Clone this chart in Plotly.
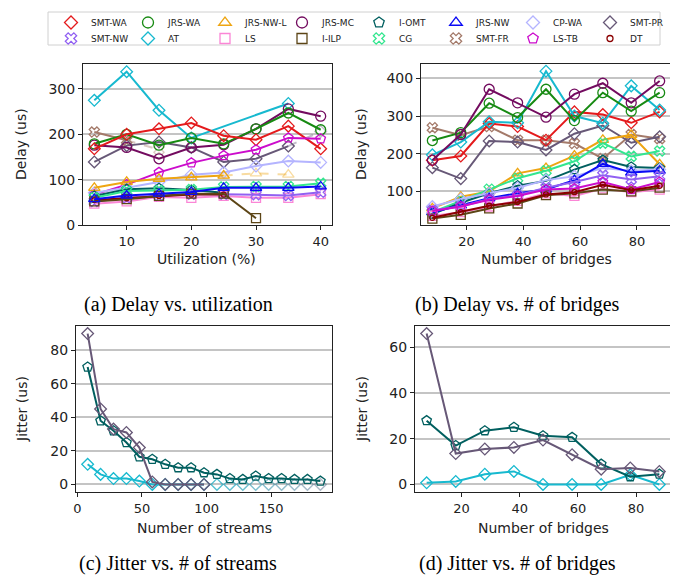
import plotly.graph_objects as go

# ------------------------------------------------------------------ data
UTIL = [5, 10, 15, 20, 25, 30, 35, 40]
BRIDGES = [8, 18, 28, 38, 48, 58, 68, 78, 88]
STREAMS = [8, 18, 28, 38, 48, 58, 68, 78, 88, 98, 108, 118, 128, 138, 148, 158, 168, 178, 188]

# (a) Delay vs. utilization
DELAY_UTIL = {
    "SMT-WA":   [168, 200, 212, 225, 197, 188, 218, 168],
    "JRS-WA":   [179, 200, 176, 192, 179, 212, 247, 210],
    "JRS-MC":   [176, 171, 146, 171, 177, 212, 256, 240],
    "SMT-PR":   [139, 175, 183, 171, 139, 146, 174, None],
    "SMT-FR":   [205, 187, None, None, None, None, None, None],
    "AT":       [275, 338, 253, 192, None, None, 268, None],
    "LS-TB":    [67, 89, 116, 137, 153, 166, 192, 190],
    "CP-WA":    [71, 82, 95, 111, 116, 130, 141, 138],
    "JRS-NW-L": [82, 95, 102, 105, 109, None, None, None],
    "I-OMT":    [64, 79, 81, 77, 71, None, None, None],
    "CG":       [60, 75, 76, 78, 84, 85, 85, 92],
    "JRS-NW":   [57, 65, 69, 73, 82, 82, 82, 85],
    "SMT-NW":   [52, 60, 65, 68, 68, 67, 65, 72],
    "DT":       [55, 59, 64, 67, 67, None, None, None],
    "I-ILP":    [52, 57, 64, 69, 69, 15, None, None],
    "LS":       [47, 52, 62, 60, 64, 60, 60, 68],
}
# faded (dashed) parts of (a)
FADED_UTIL_X = {"JRS-NW-L": [25, 30, 35], "SMT-FR": [10, 15], "SMT-PR": [35, 40]}
FADED_UTIL_Y = {"JRS-NW-L": [109, 114, 111], "SMT-FR": [187, 166], "SMT-PR": [174, 206]}

# (b) Delay vs. number of bridges
DELAY_BRIDGES = {
    "JRS-MC":   [183, 251, 371, 335, 297, 358, 387, 335, 393],
    "JRS-WA":   [235, 256, 334, 296, 371, 288, 362, 313, 362],
    "AT":       [197, 231, 285, 282, 419, 300, 281, 380, 316],
    "SMT-WA":   [183, 194, 280, 272, 236, 311, 304, 282, 311],
    "SMT-FR":   [269, 249, 272, 236, 236, 227, 187, 251, 240],
    "SMT-PR":   [163, 134, 234, 231, 210, 253, 275, 229, 245],
    "JRS-NW-L": [55, 86, 100, 148, 162, 195, 237, 250, 172],
    "CG":       [45, 75, 106, 135, 155, 180, 228, 193, 207],
    "I-OMT":    [40, 70, 95, 115, 128, 158, 183, 165, 162],
    "CP-WA":    [60, 80, 95, 110, 130, 140, 162, 155, 158],
    "JRS-NW":   [45, 63, 82, 95, 105, 130, 173, 150, 155],
    "SMT-NW":   [50, 60, 80, 90, 110, 125, 143, 132, 140],
    "LS-TB":    [48, 60, 78, 88, 105, 108, 125, 105, 125],
    "LS":       [35, 45, 60, 75, 95, 88, 108, 98, 105],
    "I-ILP":    [28, 38, 55, 68, 90, 95, 105, 100, 110],
    "DT":       [30, 45, 62, 72, 92, 98, 118, 103, 115],
}

# (c) Jitter vs. number of streams
JITTER_STREAMS = {
    "AT":     [12, 6, 3.5, 3.5, 2, 0, 0, 0, 0, 0],
    "I-OMT":  [70, 38, 32, 25, 16.5, 15, 12, 10, 10, 7, 6, 3.5, 3, 5, 3.5, 3.5, 3, 3, 2],
    "SMT-PR": [90, 45, 33, 31, 22, 1.5, 0, 0, 0, 0],
}
FADED_STREAMS_X = [108, 118, 128, 138, 148, 158, 168, 178, 188]
FADED_STREAMS_Y = [0, 0, 0, 0, 0, 0, 0, 0, 0]

# (d) Jitter vs. number of bridges
JITTER_BRIDGES = {
    "SMT-PR": [66, 13.5, 15.5, 16.2, 19.4, 13, 6.7, 7.2, 5.7],
    "I-OMT":  [27.9, 17, 23.5, 25, 21.3, 20.6, 8.9, 3.4, 4.5],
    "AT":     [0.7, 1.3, 4.5, 5.7, 0, 0, 0, 4.2, 0],
}

LEGEND_ROW1 = ["SMT-WA", "JRS-WA", "JRS-NW-L", "JRS-MC", "I-OMT", "JRS-NW", "CP-WA", "SMT-PR"]
LEGEND_ROW2 = ["SMT-NW", "AT", "LS", "I-ILP", "CG", "SMT-FR", "LS-TB", "DT"]

# ------------------------------------------------------------------ styles
STYLE = {
    "SMT-WA":   ("#e41a1c", "diamond-open", 9),
    "SMT-NW":   ("#9160f2", "x-open", 9),
    "JRS-WA":   ("#178a12", "circle-open", 10),
    "AT":       ("#17b9cf", "diamond-open", 9),
    "JRS-NW-L": ("#eea512", "triangle-up-open", 10),
    "LS":       ("#fb86d6", "square-open", 9),
    "JRS-MC":   ("#730b5f", "circle-open", 10),
    "I-ILP":    ("#5c4516", "square-open", 9),
    "I-OMT":    ("#005f5f", "pentagon-open", 10),
    "CG":       ("#33e68f", "x-open", 9),
    "JRS-NW":   ("#0a0af5", "triangle-up-open", 10),
    "SMT-FR":   ("#a47a6a", "x-open", 9),
    "CP-WA":    ("#b4b4ff", "diamond-open", 9),
    "LS-TB":    ("#cc0ccc", "pentagon-open", 10),
    "SMT-PR":   ("#675877", "diamond-open", 9),
    "DT":       ("#8b0000", "circle-open", 5),
}


def hex_rgba(h, a):
    h = h.lstrip("#")
    return "rgba(%d,%d,%d,%.3f)" % (int(h[0:2], 16), int(h[2:4], 16), int(h[4:6], 16), a)


fig = go.Figure()


def add_series(xs, ys, name, xa, ya, dash="solid", alpha=1.0, lw=2, mode="lines+markers"):
    col, sym, size = STYLE[name]
    c = hex_rgba(col, alpha)
    fig.add_trace(go.Scatter(
        x=xs, y=ys, mode=mode, name=name, showlegend=False, connectgaps=True,
        xaxis=xa, yaxis=ya,
        line=dict(color=c, width=lw, dash=dash),
        marker=dict(symbol=sym, size=size, color=c, line=dict(color=c, width=1.3)),
        hoverinfo="x+y+name",
    ))


# (a)
order_a = ["AT", "SMT-FR", "SMT-PR", "JRS-MC", "JRS-WA", "SMT-WA", "LS-TB", "CP-WA", "JRS-NW-L",
           "I-OMT", "CG", "LS", "SMT-NW", "DT", "I-ILP", "JRS-NW"]
for n in ["JRS-NW-L", "SMT-FR", "SMT-PR"]:
    add_series(FADED_UTIL_X[n], FADED_UTIL_Y[n], n, "x", "y", dash="dash", alpha=0.4)
for n in order_a:
    ys = DELAY_UTIL[n]
    xs = [x for x, y in zip(UTIL, ys) if y is not None]
    yv = [y for y in ys if y is not None]
    add_series(xs, yv, n, "x", "y")

# (b)
order_b = ["SMT-FR", "SMT-PR", "SMT-WA", "AT", "JRS-WA", "JRS-MC", "JRS-NW-L", "CG", "I-OMT",
           "CP-WA", "JRS-NW", "SMT-NW", "LS", "I-ILP", "LS-TB", "DT"]
for n in order_b:
    add_series(BRIDGES, DELAY_BRIDGES[n], n, "x2", "y2")

# (c)
fa = len(FADED_STREAMS_X)
at_col = STYLE["AT"][0]
pr_col = STYLE["SMT-PR"][0]
at_cols = [hex_rgba(at_col, 0.75 - 0.6 * i / (fa - 1)) for i in range(fa)]
pr_cols = [hex_rgba(pr_col, 0.1 + 0.3 * i / (fa - 1)) for i in range(fa)]
for cols in (at_cols, pr_cols):
    fig.add_trace(go.Scatter(
        x=FADED_STREAMS_X, y=FADED_STREAMS_Y, mode="markers", showlegend=False, xaxis="x3", yaxis="y3",
        marker=dict(symbol="diamond-open", size=9, color=cols, line=dict(color=cols, width=1.3)),
    ))
for n in ["AT", "I-OMT", "SMT-PR"]:
    ys = JITTER_STREAMS[n]
    add_series(STREAMS[:len(ys)], ys, n, "x3", "y3")

# (d)
for n in ["AT", "I-OMT", "SMT-PR"]:
    add_series(BRIDGES, JITTER_BRIDGES[n], n, "x4", "y4")

# legend entries (markers only)
for row, lg in ((LEGEND_ROW1, "legend"), (LEGEND_ROW2, "legend2")):
    for n in row:
        col, sym, size = STYLE[n]
        fig.add_trace(go.Scatter(
            x=[None], y=[None], mode="markers", name=n, legend=lg, xaxis="x", yaxis="y",
            marker=dict(symbol=sym, size=size + 1, color=col, line=dict(color=col, width=1.3)),
        ))

# ------------------------------------------------------------------ layout
W, H = 678, 579


def px_x(p):
    return p / W


def px_y(p):
    return 1 - p / H


TICKFONT_Y = dict(family="DejaVu Sans", size=14, color="#222")
TICKFONT_X = dict(family="DejaVu Sans", size=13, color="#222")


def xaxis(dom, rng, ticks, anchor):
    return dict(domain=[px_x(dom[0]), px_x(dom[1])], range=rng, tickvals=ticks, anchor=anchor,
                showline=True, mirror=True, linecolor="#222", linewidth=1, ticks="outside",
                ticklen=4, tickwidth=1, tickcolor="#222", showgrid=False, zeroline=False,
                tickfont=TICKFONT_X)


def yaxis(dom, rng, ticks, anchor):
    return dict(domain=[px_y(dom[1]), px_y(dom[0])], range=rng, tickvals=ticks, anchor=anchor,
                showline=True, mirror=True, linecolor="#222", linewidth=1, ticks="outside",
                ticklen=4, tickwidth=1, tickcolor="#222", showgrid=True, gridcolor="#c4c4c4",
                gridwidth=1.5, zeroline=False, tickfont=TICKFONT_Y)


LEG_FONT = dict(family="DejaVu Sans", size=9, color="#222")
fig.update_layout(
    width=W, height=H, margin=dict(l=0, r=0, t=0, b=0, autoexpand=False),
    paper_bgcolor="white", plot_bgcolor="white",
    xaxis=xaxis((75, 324), [3.25, 41.75], [10, 20, 30, 40], "y"),
    yaxis=yaxis((56, 217), [0, 355], [0, 100, 200, 300], "x"),
    xaxis2=xaxis((413, 663), [4, 92], [20, 40, 60, 80], "y2"),
    yaxis2=yaxis((56, 217), [11, 438], [100, 200, 300, 400], "x2"),
    xaxis3=xaxis((68, 324), [-1, 197], [0, 50, 100, 150], "y3"),
    yaxis3=yaxis((318, 484), [-4.5, 94.5], [0, 20, 40, 60, 80], "x3"),
    xaxis4=xaxis((407, 663), [4, 92], [20, 40, 60, 80], "y4"),
    yaxis4=yaxis((318, 484), [-3.3, 69.3], [0, 20, 40, 60], "x4"),
    showlegend=True,
    legend=dict(orientation="h", x=px_x(43), y=px_y(0), xanchor="left", yanchor="top",
                entrywidth=32, entrywidthmode="pixels", font=LEG_FONT,
                bgcolor="rgba(0,0,0,0)", borderwidth=0, itemclick=False),
    legend2=dict(orientation="h", x=px_x(43), y=px_y(16), xanchor="left", yanchor="top",
                 entrywidth=32, entrywidthmode="pixels", font=LEG_FONT,
                 bgcolor="rgba(0,0,0,0)", borderwidth=0, itemclick=False),
    shapes=[dict(type="rect", xref="paper", yref="paper", x0=px_x(40), x1=px_x(652),
                 y0=px_y(37), y1=px_y(4), line=dict(color="#d0d0d0", width=1), layer="below")],
)

ann = []
AX_FONT = dict(family="DejaVu Sans", size=14, color="#222")
CAP_FONT = dict(family="Liberation Serif", size=20, color="black")
for txt, x, y in [("Utilization (%)", 199, 251), ("Number of bridges", 538, 251),
                  ("Number of streams", 196, 520), ("Number of bridges", 535, 520)]:
    ann.append(dict(text=txt, x=px_x(x), y=px_y(y), xref="paper", yref="paper", showarrow=False,
                    font=AX_FONT, xanchor="center", yanchor="middle"))
for txt, x, y in [("Delay (us)", 13, 136), ("Delay (us)", 353, 136),
                  ("Jitter (us)", 14, 401), ("Jitter (us)", 354, 401)]:
    ann.append(dict(text=txt, x=px_x(x), y=px_y(y), xref="paper", yref="paper", showarrow=False,
                    font=AX_FONT, textangle=-90, xanchor="center", yanchor="middle"))
for txt, x, y in [("(a) Delay vs. utilization", 170, 296), ("(b) Delay vs. # of bridges", 510, 296),
                  ("(c) Jitter vs. # of streams", 170, 555), ("(d) Jitter vs. # of bridges", 510, 555)]:
    ann.append(dict(text=txt, x=px_x(x), y=px_y(y), xref="paper", yref="paper", showarrow=False,
                    font=CAP_FONT, xanchor="center", yanchor="middle"))
fig.update_layout(annotations=ann)

fig.write_html("out.html")
